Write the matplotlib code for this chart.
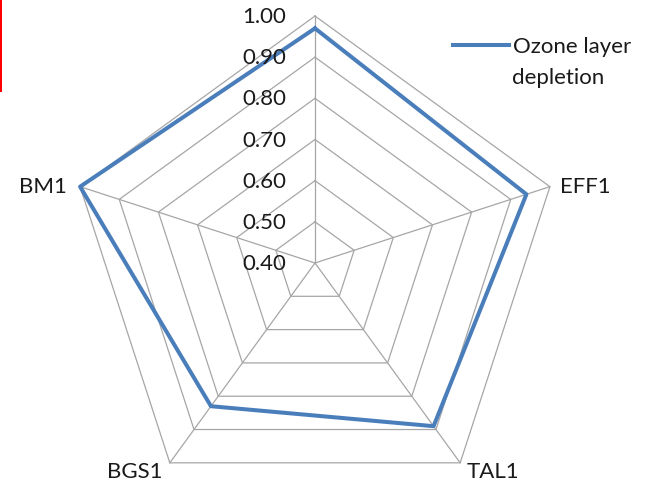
import numpy as np
import matplotlib
matplotlib.use("Agg")
import matplotlib.pyplot as plt
from matplotlib.patches import Rectangle

# Radar data: spokes run clockwise from the top
categories = ["", "EFF1", "TAL1", "BGS1", "BM1"]
ozone_depletion = [0.97, 0.94, 0.89, 0.83, 1.00]
series_name = "Ozone layer"
series_name_line2 = "depletion"
r_ticks = [0.40, 0.50, 0.60, 0.70, 0.80, 0.90, 1.00]
r_tick_labels = ["0.40", "0.50", "0.60", "0.70", "0.80", "0.90", "1.00"]

plt.rcParams["font.family"] = ["Lato", "DejaVu Sans"]
FS = 16
TEXT = "#1a1a1a"
GRID = "#a6a6a6"
LINE = "#4a7ebb"

W, H = 652, 482
fig = plt.figure(figsize=(W / 100, H / 100), dpi=100)
cx, cy, R = 315, 263, 247
ax = fig.add_axes([(cx - R) / W, (H - cy - R) / H, 2 * R / W, 2 * R / H],
                  projection="polar")
ax.set_theta_offset(np.pi / 2)
ax.set_theta_direction(-1)
ax.set_ylim(r_ticks[0], r_ticks[-1])
ax.grid(False)
ax.spines["polar"].set_visible(False)
ax.set_xticks([])
ax.set_yticks([])
ax.patch.set_visible(False)

n = len(categories)
theta = np.linspace(0, 2 * np.pi, n, endpoint=False)
closed = np.append(theta, theta[0])

# pentagon rings and spokes
for r in r_ticks[1:]:
    ax.plot(closed, [r] * (n + 1), color=GRID, lw=0.9, clip_on=False, zorder=1)
for t in theta:
    ax.plot([t, t], [r_ticks[0], r_ticks[-1]], color=GRID, lw=0.9,
            clip_on=False, zorder=1)

vals = np.append(ozone_depletion, ozone_depletion[0])
line, = ax.plot(closed, vals, color=LINE, lw=2.9, solid_joinstyle="round",
                clip_on=False, zorder=3, label=series_name)

# radial value labels beside the top spoke
for r, lab in zip(r_ticks, r_tick_labels):
    ax.annotate(lab, xy=(0, r), xytext=(-29, -1), textcoords="offset pixels",
                ha="right", va="center", fontsize=FS, color=TEXT,
                annotation_clip=False)

# category labels just outside the outer ring
offsets = {
    1: ((10, 0), "left", "center"),
    2: ((6, -9), "left", "center"),
    3: ((-7, -9), "right", "center"),
    4: ((-13, 0), "right", "center"),
}
for i, lab in enumerate(categories):
    if not lab:
        continue
    off, ha, va = offsets[i]
    ax.annotate(lab, xy=(theta[i], r_ticks[-1]), xytext=off,
                textcoords="offset pixels", ha=ha, va=va, fontsize=FS,
                color=TEXT, annotation_clip=False)

# legend
leg = fig.legend(handles=[line], loc="upper left",
                 bbox_to_anchor=(453 / W, 1 - 37 / H), frameon=False,
                 fontsize=FS, handlelength=2.5, handletextpad=0.2,
                 borderpad=0, borderaxespad=0, labelcolor=TEXT)
fig.text(512 / W, 1 - 78 / H, series_name_line2, ha="left", va="center",
         fontsize=FS, color=TEXT)

fig.add_artist(Rectangle((0, 1 - 92 / H), 2 / W, 92 / H,
                         transform=fig.transFigure, color="#ff0000", lw=0))

fig.savefig("out.png", dpi=100)
